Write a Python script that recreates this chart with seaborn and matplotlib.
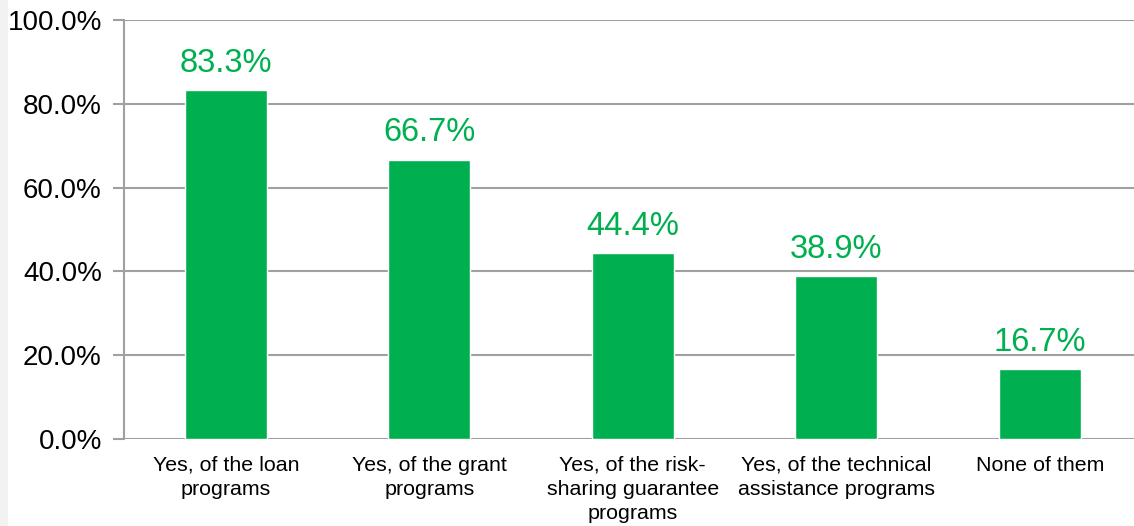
import matplotlib
matplotlib.use("Agg")
import matplotlib.pyplot as plt
import seaborn as sns
import pandas as pd
from matplotlib.ticker import FuncFormatter

categories = [
    "Yes, of the loan\nprograms",
    "Yes, of the grant\nprograms",
    "Yes, of the risk-\nsharing guarantee\nprograms",
    "Yes, of the technical\nassistance programs",
    "None of them",
]
shares = [83.3, 66.7, 44.4, 38.9, 16.7]
y_ticks = [0, 20, 40, 60, 80, 100]

GREEN = "#00B050"
GRID = "#a0a0a0"

sns.set_theme(style="white")
plt.rcParams["font.family"] = ["Liberation Sans", "DejaVu Sans"]

df = pd.DataFrame({"category": categories, "share": shares})

fig = plt.figure(figsize=(11.34, 5.26), dpi=100)
fig.patch.set_facecolor("white")
# thin grey strip along the left edge
fig.add_artist(plt.Rectangle((0, 0), 8 / 1134, 1, transform=fig.transFigure,
                             facecolor="#f2f2f0", edgecolor="none", zorder=0))

ax = fig.add_axes([124 / 1134, 1 - 439 / 526, 1017.5 / 1134, 419 / 526])
sns.barplot(data=df, x="category", y="share", color=GREEN, width=0.405,
            saturation=1, ax=ax, zorder=3)

ax.set_ylim(0, 100)
ax.set_xlim(-0.5, len(categories) - 0.5)
ax.set_yticks(y_ticks)
ax.yaxis.set_major_formatter(FuncFormatter(lambda v, _: f"{v:.1f}%"))
ax.grid(axis="y", color=GRID, linewidth=1.5, zorder=0)
ax.set_axisbelow(True)

for side in ["top", "right", "bottom"]:
    ax.spines[side].set_visible(False)
ax.spines["left"].set_color(GRID)
ax.spines["left"].set_linewidth(1.5)

ax.tick_params(axis="y", length=8, width=1.5, color=GRID, labelsize=20,
               labelcolor="black", pad=8, left=True)
ax.tick_params(axis="x", length=0, labelsize=15.4, labelcolor="black", pad=12)
for lbl in ax.get_xticklabels():
    lbl.set_linespacing(1.35)
ax.set_xlabel("")
ax.set_ylabel("")

for i, v in enumerate(shares):
    ax.annotate(f"{v:.1f}%", (i, v), xytext=(0, 8), textcoords="offset points",
                ha="center", va="bottom", color=GREEN, fontsize=23.5)

fig.savefig("out.png", dpi=100)
